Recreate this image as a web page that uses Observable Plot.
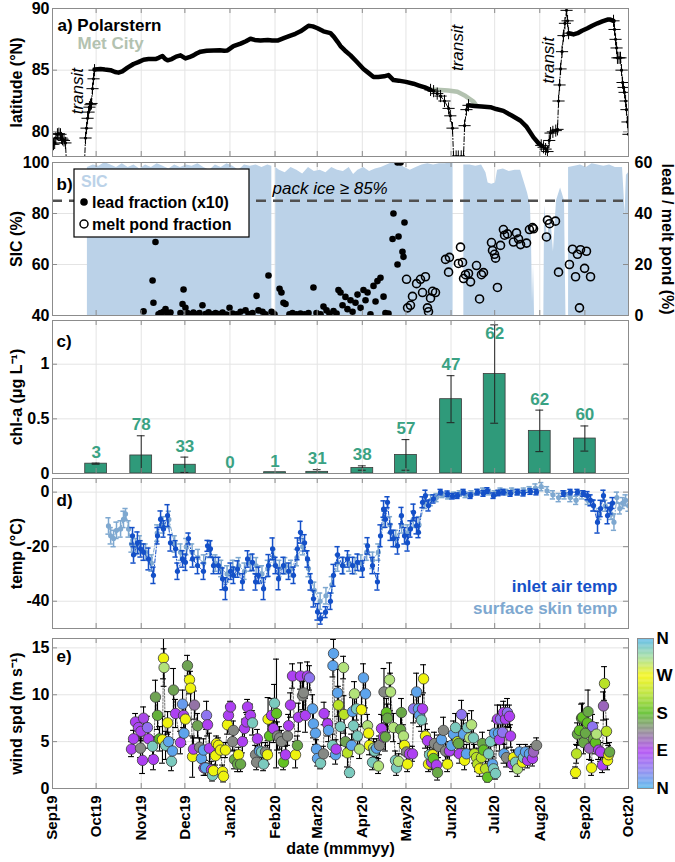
<!DOCTYPE html>
<html><head><meta charset="utf-8">
<script src="https://cdn.jsdelivr.net/npm/d3@7"></script>
<script src="https://cdn.jsdelivr.net/npm/@observablehq/plot@0.6"></script>
<style>
body{margin:0;background:#fff;}
#chart{position:relative;width:675px;height:862px;overflow:hidden;}
#chart svg{position:absolute;left:0;overflow:visible;}
</style></head><body><div id="chart"></div>
<script>
// ---------- DATA (days since 1 Sep 2019) ----------
const monthLabels = ["Sep19","Oct19","Nov19","Dec19","Jan20","Feb20","Mar20","Apr20","May20","Jun20","Jul20","Aug20","Sep20","Oct20"];
const latTicks = [80, 85, 90];
const sicTicks = [40, 60, 80, 100];
const chlTicks = [0, 0.5, 1];
const tempTicks = [-40, -20, 0];
const windTicks = [0, 5, 10, 15];
const dirTicks = [0, 90, 180, 270, 360];
const dirLabels = ["N", "E", "S", "W", "N"];

// Polarstern latitude [day, lat, leg]
const psRows = [
[0,79.0,"t0"],[0.7,79.0,"t0"],[1.5,79.1,"t0"],[2.3,79.5,"t0"],[3.4,79.8,"t0"],[4.4,79.85,"t0"],[5.5,79.8,"t0"],[6.2,79.5,"t0"],[6.9,79.4,"t0"],[7.9,79.3,"t0"],[8.9,79.1,"t0"],[9.6,77.5,"t0"],
[22,77.5,"t1"],[22.7,79.5,"t1"],[23.4,80.3,"t1"],[24.1,81.1,"t1"],[24.8,81.6,"t1"],[25.4,82.0,"t1"],[26.1,82.2,"t1"],[26.8,82.3,"t1"],[27.5,83.5,"t1"],[28.2,84.3,"t1"],[28.9,85.0,"t1"],
[28.9,85.05,"d1"],[33,85.1,"d1"],[36,85.05,"d1"],[39.9,85.0,"d1"],[43,84.85,"d1"],[45.4,84.8,"d1"],[48,84.9,"d1"],[51.6,85.2,"d1"],[55.7,85.5,"d1"],[59,85.65,"d1"],[62.6,85.85,"d1"],[66,85.9,"d1"],[70.8,85.9,"d1"],[73,86.0,"d1"],[75.6,86.15,"d1"],[77.5,85.9,"d1"],[79.1,85.8,"d1"],[82,85.9,"d1"],[85,86.1,"d1"],[88,86.2,"d1"],[91.4,85.95,"d1"],[94,86.05,"d1"],[96.9,86.2,"d1"],[99,86.35,"d1"],[101.8,86.5,"d1"],[106,86.58,"d1"],[110.7,86.6,"d1"],[115,86.62,"d1"],[118,86.58,"d1"],[120.3,86.6,"d1"],[124.4,86.95,"d1"],[129.3,87.15,"d1"],[133,87.35,"d1"],[136.1,87.55,"d1"],[139,87.45,"d1"],[143,87.4,"d1"],[148,87.45,"d1"],[151,87.4,"d1"],[154.7,87.4,"d1"],[159,87.6,"d1"],[163.6,87.8,"d1"],[167,87.95,"d1"],[170.5,88.15,"d1"],[173,88.35,"d1"],[176,88.6,"d1"],[179,88.55,"d1"],[182.2,88.4,"d1"],[186.3,88.15,"d1"],[191.1,88.0,"d1"],[193.5,87.7,"d1"],[196,87.3,"d1"],[198,86.95,"d1"],[201,86.6,"d1"],[204.9,86.2,"d1"],[209,85.7,"d1"],[213.8,85.1,"d1"],[217,84.8,"d1"],[220.7,84.45,"d1"],[224,84.45,"d1"],[228,84.5,"d1"],[231,84.6,"d1"],[234.4,84.2,"d1"],[238,84.15,"d1"],[243,84.05,"d1"],[248.2,83.9,"d1"],[252,83.75,"d1"],[256,83.6,"d1"],[259.9,83.4,"d1"],
[259.9,83.4,"t2"],[262,83.3,"t2"],[264.5,83.1,"t2"],[266.8,82.9,"t2"],[269.5,82.5,"t2"],[272.3,81.9,"t2"],[273.5,81.3,"t2"],[275,80.3,"t2"],[275.7,78.0,"t2"],[277.5,78.0,"t2"],[279,78.0,"t2"],[281,78.0,"t2"],[282.6,78.0,"t2"],[283.3,80.5,"t2"],[284.6,81.8,"t2"],[286,82.15,"t2"],
[286,82.15,"d2"],[290,82.1,"d2"],[295,82.05,"d2"],[301.1,82.0,"d2"],[305,81.85,"d2"],[310,81.7,"d2"],[316,81.3,"d2"],[321.8,80.9,"d2"],[326,80.4,"d2"],[330.7,79.55,"d2"],[334,79.1,"d2"],[336,78.9,"d2"],
[336,78.9,"t3"],[337.6,78.75,"t3"],[339,78.6,"t3"],[340.3,78.4,"t3"],[341.5,79.3,"t3"],[342.4,79.9,"t3"],[344,80.0,"t3"],[346,80.1,"t3"],[347.2,80.2,"t3"],[347.9,82.5,"t3"],[348.6,83.8,"t3"],[349.3,85.1,"t3"],[350.3,86.5,"t3"],[351.3,87.8,"t3"],[352.3,88.8,"t3"],[353.4,89.85,"t3"],[354.1,89.0,"t3"],[354.8,88.0,"t3"],
[354.8,88.0,"d3"],[356.5,87.95,"d3"],[358.2,87.9,"d3"],[361,88.0,"d3"],[364,88.2,"d3"],[367.8,88.4,"d3"],[371,88.6,"d3"],[374.7,88.8,"d3"],[378,88.95,"d3"],[381.6,89.1,"d3"],[383.5,89.1,"d3"],[385.7,89.0,"d3"],
[385.7,89.0,"t4"],[386.4,88.3,"t4"],[387.1,87.5,"t4"],[387.8,86.8,"t4"],[388.4,86.0,"t4"],[389.5,86.0,"t4"],[390.5,86.0,"t4"],[391.2,85.0,"t4"],[391.9,84.0,"t4"],[392.6,83.6,"t4"],[393.3,83.2,"t4"],[394,82.5,"t4"],[394.6,81.8,"t4"],[395.3,80.8,"t4"],[396,79.8,"t4"]
];
// Met City latitude [day, lat]
const metRows = [[259.9,83.4],[263,83.42],[266.8,83.4],[272,83.35],[278.4,83.25],[284,82.9],[289.4,82.45],[291,82.2]];
// transit annotations [day, lat]
const transitNotes = [[17.2,83.3],[278.8,86.8],[341,85.8]];

// Sea ice concentration [day, %]
const sicRows = [
[24,98],[28,99],[32,98.5],[36,100],[40,99],[44,98],[48,99.5],[52,98],[56,99],[60,97.5],[64,99],[68,98],[72,99.5],[76,98.5],[80,97.5],[84,99],[88,98],[92,99],[96,98.5],[100,99.5],[104,98],[108,97],[112,99],[116,98],[120,99.5],[124,98.5],[128,97],[132,99],[136,98.5],[140,99],[144,98],[148,99],[150.8,98.5],[151,NaN],[153.3,NaN],[153.5,98],[156,97],[160,96],[164,98],[168,97],[172,95.5],[176,98],[180,96.5],[184,97],[188,96],[192,98],[196,97],[200,96.5],[204,98],[207,95.3],[210,97],[214,98],[218,96.5],[222,97.5],[226,98],[230,99],[234,100],[238,99.5],[242,98],[246,97],[250,98],[254,99],[258,99.5],[262,99],[266,99.5],[270,99.5],[275.4,100],[275.6,NaN],[282.6,NaN],[282.8,99],[287,99],[291,98.5],[295,99],[298,96],[299.5,92],[302,91.5],[304.5,92],[306,97],[310,97.5],[314,96.5],[318,97],[321.8,97],[324.5,92],[326.6,88],[328.6,83],[329.3,70],[330,45],[330.7,60],[331.4,40],[331.6,NaN],[337.6,NaN],[337.8,40],[338.3,83],[340.3,70],[342.4,80],[344.4,65],[346.5,85],[349.3,90],[352,85],[353,40],[353.2,NaN],[354.6,NaN],[354.8,98],[359,98.5],[363,99],[367,98],[371,99.5],[375,99],[379,98.5],[383,99],[387,98],[391.9,98],[392.9,88],[393.6,80],[394.6,95],[396,96]
];
// lead fraction x10 [day, %]
const leadRows = [
[62.6,1.6],[68.8,13.7],[69.4,5],[70.8,28.8],[72.9,0.5],[74.3,1],[76.3,1.5],[77.7,2.5],[79.1,0.8],[81.1,1.2],[88,1],[89.4,4.5],[90.1,10.2],[91.4,3],[92.8,1],[94.9,0.5],[96.9,1.2],[99,0.4],[101,1],[103.1,4],[105.2,0.6],[107.3,1.3],[110,0.5],[112.1,1],[114.1,0.6],[116.9,1.2],[119.6,0.4],[121.7,3],[123.8,0.8],[126.5,0.5],[129.3,1.5],[132.7,2],[134.8,0.6],[137.5,1],[140.3,7.7],[141.6,2],[144.4,1.5],[146.4,0.5],[148.5,15.7],[150.6,1.5],[152.6,0.5],[156.1,10.5],[157.4,9],[158.8,5],[160.2,4.5],[162.9,0.5],[165,1],[167.8,0.5],[170.5,0.8],[173.3,0.5],[176,1],[179.4,11],[181.5,1],[184.3,0.5],[186.3,3.5],[188.4,2],[190.4,0.8],[193.2,1.7],[195.3,0.8],[196.6,10],[198,9],[199.4,4],[201.4,7.3],[202.8,2.5],[204.9,6],[206.3,1.5],[208.3,5],[209.7,8.2],[211.8,3],[213.8,10],[215.2,6],[216.6,9],[218.6,0.5],[220.7,11.6],[222.1,5.5],[223.4,13.5],[225.5,14.8],[227.6,7.4],[228.9,1],[231,0.8],[233.8,30],[234.4,40],[237.2,20],[237.2,60],[239.3,60],[237.9,31],[240.6,25],[241.3,23],[242,36.5]
];
// melt pond fraction [day, %]
const pondRows = [
[243.4,14.2],[244.1,3],[246.1,4],[247.5,7.5],[250.3,12.5],[253,14.2],[254.4,9],[256.4,15.2],[257.8,3],[258.5,1.5],[259.9,6.8],[261.3,9.5],[263.3,9],[270.2,22],[272.3,17],[272.9,22.8],[279.1,20.4],[280.5,26.8],[281.9,20.8],[282.6,14.5],[283.9,16],[286,16.5],[287.4,13.2],[291.5,19.6],[293.6,6.5],[294.9,16],[296.3,16.8],[301.8,28.6],[302.5,25.5],[303.9,24],[304.6,22.5],[305.9,11],[308,27.5],[310,33.7],[310.8,31.5],[312.8,32],[316.9,28.8],[319,32.4],[320.4,30],[321.8,27.8],[325.9,28.4],[327.9,33.7],[330,34.5],[330.7,34],[339.6,30.8],[340.3,37.4],[341.7,36],[345.8,37],[347.9,17],[355.4,20],[357.5,26],[359.6,15.2],[360.9,24],[362.3,3],[363,25.8],[365.8,18.5],[367.1,25.2],[369.9,15.2]
];

// chlorophyll-a monthly
const chlMonth = ["2019-10-01","2019-11-01","2019-12-01","2020-01-01","2020-02-01","2020-03-01","2020-04-01","2020-05-01","2020-06-01","2020-07-01","2020-08-01","2020-09-01"];
const chlMean = [0.09, 0.165, 0.08, 0, 0.012, 0.015, 0.05, 0.17, 0.68, 0.91, 0.39, 0.32];
const chlErr  = [0.005, 0.18, 0.07, 0, 0, 0.02, 0.02, 0.14, 0.215, 0.45, 0.19, 0.115];
const chlN    = [3, 78, 33, 0, 1, 31, 38, 57, 47, 62, 62, 60];

// inlet air temperature [day, T, err]
const airRows = [
[55,-16,3],[55.7,-23,3],[58.4,-18.6,4],[60.5,-20.8,3],[62.6,-22,3],[66,-24.5,4],[69.4,-30.5,3],[72.2,-16,3],[74.3,-9.9,3],[76.3,-13.5,3],[79.1,-8.6,4],[81.1,-18.6,3],[84.6,-20.8,3],[85.9,-29,3],[89.4,-24.5,3],[91.4,-25.7,3],[93.5,-17,2],[96.3,-24.5,3],[99.7,-26.9,3],[103.8,-29,3],[106.6,-19.7,2],[108.6,-20.8,3],[110.7,-26.9,3],[114.1,-26.9,3],[116.9,-31.8,4],[118.9,-35.4,4],[122.4,-29,3],[124.4,-30.5,3],[127.2,-28.2,3],[130.6,-32.9,3],[134.1,-24.5,3],[137.5,-25.7,3],[139.6,-32.9,3],[141.6,-30.5,3],[145.1,-35.4,4],[148.5,-26.9,4],[151.3,-20.8,4],[153.3,-26.9,3],[155.4,-31.8,4],[158.8,-26.9,3],[162.3,-29,3],[165.7,-30.5,3],[168.4,-20.8,4],[170.5,-14.7,4],[173.3,-18.6,3],[175.3,-24.5,3],[177.4,-32.9,3],[179.4,-39.1,3],[182.2,-43.9,3],[184.3,-46.4,2],[187.7,-44,2],[191.1,-40,3],[193.2,-30.5,4],[196,-23,3],[199.4,-26.9,3],[202.8,-24.5,3],[206.3,-26.9,3],[209.7,-25.7,3],[213.1,-28.2,3],[216.6,-19.7,3],[220,-26.9,3],[223.4,-32.9,3],[225.5,-16,4],[227.6,-6.2,3],[228.9,-9.9,3],[230.3,-3.7,2],[232.4,-14.7,3],[234.4,-17,3],[237.2,-19.7,3],[239.9,-8.6,3],[242,-16,3],[244.1,-18.6,3],[246.1,-13.5,3],[248.2,-7.4,3],[250.3,-12.3,3],[251.6,-14.7,2],[254.4,-3.7,2],[256.4,-1.3,2],[258.5,-4.9,2],[261.9,-2.5,1.5],[266.8,0,1],[271.6,-0.6,1],[275,-1.5,1],[278.4,-1.3,1],[282.6,0,1],[287.4,-1.3,1],[292.2,0,1],[296.3,-0.5,1],[299,0.6,1],[303.2,-1.3,1],[306.6,-0.3,1],[310,0,1],[314.9,-0.5,1],[319.7,0,1],[323.8,-0.4,1],[328.6,0.2,1],[332.7,0,1],[351.3,-0.5,1],[356.1,0,1],[360.9,0,1],[365,-0.5,1],[367.8,-1.3,1.5],[369.9,-3,2],[371.9,-4.9,2],[374.7,-11,4],[376.8,-6,3],[378.8,-1.3,2],[381.6,-8.6,3],[383.6,-6,2],[385,-4,2]
];
// surface skin temperature [day, T, err]
const skinRows = [
[38.5,-12.4,3],[40,-16,3],[42,-17,3],[44,-14,3],[46.8,-13.5,3],[48.8,-10,3],[50.2,-8,2],[52.3,-13.5,3],[54.3,-19,3],[57,-20,3],[60,-19,3],[64,-22,3],[68,-26,3],[72,-15,3],[76,-12,3],[80,-10,3],[84,-19,3],[88,-22,3],[92,-20,3],[96,-22,3],[100,-24,3],[104,-26,3],[108,-21,3],[112,-26,3],[116,-28,3],[120,-30,3],[124,-28,3],[128,-27,3],[132,-29,3],[136,-26,3],[140,-27,3],[144,-30,3],[148,-28,3],[152,-24,3],[156,-28,3],[160,-27,3],[164,-28,3],[168,-24,3],[172,-20,3],[176,-28,3],[180,-36,3],[184,-40,3],[188,-38,3],[192,-34,3],[196,-26,3],[200,-27,3],[204,-26,3],[208,-27,3],[212,-26,3],[216,-22,3],[220,-25,3],[224,-22,3],[228,-10,3],[232,-12,3],[236,-17,3],[240,-12,3],[244,-15,3],[248,-10,3],[252,-12,3],[256,-4,2],[260,-3,2],[264,-2,1.5],[268,-1,1],[272,-1.5,1],[276,-1,1],[280,-0.5,1],[284,-1,1],[288,-0.5,1],[292,0,1],[296,0.5,1],[300,0,1],[304,-0.5,1],[308,0.5,1],[312,0,1],[316,0.5,1],[320,0,1],[324,0.5,1],[328,1,1],[332,1.5,1.5],[336,2,1.5],[340,0.5,1.5],[344,-1,1.5],[348,-2,1.5],[352,-1,1.5],[356,-2,1.5],[360,-3,1.5],[364,-1,1.5],[368,-3,1.5],[372,-5,2],[376,-8,2],[380,-5,2],[384,-8,2],[386,-11,3],[388,-2,2],[390,-6,2],[392,-4,2],[394,-3,2],[396,-5,2]
];

// wind [day, speed, direction (deg), err]
const windRows = [
[54.3,4.2,90,0.8],[55.7,5.3,90,0.9],[57.1,7.1,90,0.9],[59.1,6.5,85,1],[60.5,4.3,140,1],[60.8,6.1,90,1],[61.9,3.0,90,1.4],[62.6,7.5,95,1.2],[65.3,6.5,55,1.2],[66,5.3,90,1],[68.8,4.5,335,1],[69.4,3.1,90,1.1],[70.8,9.75,160,1.8],[72.2,7.8,170,1.5],[73.6,5.3,180,1.3],[75.6,5.2,265,2.5],[76.3,13.9,265,2.2],[76.7,12.9,305,2],[77.7,4.6,335,1.5],[79.1,7.0,265,1.2],[79.8,5.0,12,1],[81.8,2.9,335,1],[82.5,4.0,12,1.2],[83.2,10.5,160,2.3],[84.6,8.0,90,1.5],[88,4.9,90,1.2],[89.4,9.0,20,1.5],[90.1,7.8,95,1.3],[90.4,5.9,12,1.2],[91.4,7.4,265,1.5],[92.8,13.1,160,1.1],[94.2,11.6,265,1.5],[94.9,10.7,265,1.8],[96.3,3.4,265,2.2],[96.9,4.2,90,1.2],[97.6,8.9,125,1.5],[99.7,6.7,160,1.3],[101.1,4.4,140,1],[102.4,3.2,12,1],[103.8,4.1,12,1.2],[104.2,2.2,90,0.8],[105.2,2.2,12,0.8],[105.9,7.8,50,1.5],[106.6,6.8,90,1.2],[107.9,4.3,90,1.6],[109.3,2.0,90,0.9],[110,1.4,335,0.6],[110.7,1.9,265,0.6],[112.1,3.5,265,1],[112.8,4.8,265,0.8],[114.1,4.6,265,0.8],[115.5,4.1,265,0.8],[116.9,1.8,265,0.7],[117.6,1.3,265,0.6],[118.9,4.1,265,0.8],[120.3,6.8,265,1],[121,7.8,90,1],[122.4,8.7,90,0.6],[123.8,5.0,140,1],[124.4,6.2,140,1],[125.1,3.1,165,1],[127.2,2.6,165,0.8],[127.9,3.6,265,0.8],[129.3,2.6,165,0.8],[130.6,5.0,90,1.2],[132,6.4,90,1],[133.4,7.1,90,1],[134.1,8.7,90,0.8],[136.1,7.8,90,1.2],[137.5,7.0,335,1.3],[139.6,3.6,140,1],[140.3,2.8,140,0.8],[140.9,5.3,90,1],[142.3,4.0,12,1.1],[143.7,3.9,335,1],[145.1,2.6,335,0.7],[146.4,3.9,140,1],[147.8,3.6,265,1],[148.2,7.4,265,2.3],[149.2,5.6,185,1.5],[150.6,7.8,90,1.8],[151.9,6.4,90,1.5],[152.6,9.1,335,2],[154,8.0,185,5.8],[154.7,5.6,140,1.5],[156.1,5.4,140,1.2],[157.4,5.0,140,1.2],[158.8,2.8,185,0.8],[160.2,3.6,90,0.9],[161.6,5.6,140,1],[162.3,6.7,90,1.2],[163.6,8.9,90,1.3],[165,12.0,90,1.3],[167.1,3.6,265,1.4],[168.4,4.6,165,1],[169.1,7.6,90,1.5],[170.5,12.0,90,1.4],[171.9,9.9,140,1.5],[172.6,10.2,140,2],[173.9,7.8,90,1.8],[175.3,12.0,90,1.5],[176.7,11.8,50,1.3],[178.8,8.5,12,1.5],[179.4,6.9,12,1.5],[180.8,5.9,12,1.2],[181.5,4.2,12,1],[182.2,3.2,12,0.8],[184.3,2.7,335,0.6],[186.3,3.7,140,0.8],[186.7,8.0,90,1.2],[189.1,6.9,90,1.3],[189.8,6.2,12,1.2],[192.5,4.6,335,1.2],[192.8,13.1,12,1.2],[193.2,14.4,12,1.5],[194.6,3.6,12,1],[195,4.2,90,1],[196,10.2,12,2.5],[196.6,8.9,230,2],[198,6.6,335,2],[200.1,12.9,305,1.2],[200.4,7.9,230,2],[201.4,5.0,160,1.5],[202.8,3.8,230,1.5],[204.2,1.7,335,0.5],[205.6,4.6,12,1.2],[206.3,8.2,12,1.5],[206.9,6.7,335,1.5],[207.6,10.1,305,1.3],[209,8.5,335,1.2],[209.7,5.6,335,1.2],[211.1,4.2,305,1],[212.4,8.4,265,1.8],[213.8,11.8,12,1.5],[215.2,10.1,12,1.5],[216.6,6.7,305,1.2],[217.3,5.9,265,1.2],[217.9,4.6,265,1],[220,2.8,335,0.8],[220.7,4.3,305,1],[221.4,4.0,335,1],[222.8,4.3,12,1],[224.1,2.4,305,0.8],[224.8,4.6,140,1],[226.2,6.4,90,1.5],[227.6,5.5,90,1.3],[227.9,10.3,140,2.5],[228.9,5.5,165,1.5],[229.6,8.1,185,1.5],[230.3,7.5,165,1.5],[231.7,11.6,305,1.8],[232.4,10.3,305,2],[234.4,6.5,305,1.5],[235.8,3.0,335,1],[236.5,2.2,335,0.8],[237.9,2.9,305,0.8],[239.3,6.3,165,1.5],[239.9,8.1,165,1.5],[241.3,5.6,305,1.2],[242,4.6,265,1],[243.4,3.9,140,1],[244.1,2.6,265,0.8],[245.4,3.7,90,0.8],[247.5,3.7,90,0.8],[248.2,8.5,50,1.5],[250.3,10.3,12,2],[251.6,8.5,12,1.3],[252.3,7.8,12,1.2],[253.7,7.3,335,1.2],[254.4,8.5,90,1.5],[255.1,11.7,265,1.5],[256.4,5.6,265,1.3],[257.8,5.1,90,1.2],[258.5,2.6,265,0.8],[259.2,3.6,335,0.8],[260.6,2.8,90,0.8],[261.3,3.6,265,1],[261.9,3.2,185,1],[262.6,4.8,140,1.2],[264,2.5,90,0.8],[264.7,1.7,165,0.8],[265.4,4.5,140,1.2],[267.4,5.2,12,1.2],[268.8,6.2,140,1.4],[270.2,4.0,140,1],[271.6,2.6,265,0.8],[272.9,4.0,90,1],[274.3,4.6,12,1],[275.7,5.8,12,1.4],[277.1,6.5,335,1.5],[278.4,5.0,230,1.5],[279.1,4.8,165,1.3],[279.8,3.7,90,1],[281.2,7.9,50,1.5],[282.6,5.8,12,1.5],[283.3,3.0,265,1],[284.6,3.7,12,1],[285.3,6.5,335,1.5],[286.7,5.4,305,1.3],[288.1,6.8,305,1.5],[289.4,5.4,335,1.2],[290.1,3.7,230,1],[291.5,3.3,230,1],[292.2,2.6,230,0.8],[293.6,2.1,265,0.8],[294.9,3.3,230,1],[295.6,4.8,165,1.2],[296.3,4.1,185,1],[297.7,2.1,230,0.8],[299.1,1.2,185,0.5],[299.8,3.7,335,1],[301.1,5.0,335,1.2],[302.5,2.6,12,0.8],[303.2,2.1,335,0.8],[303.9,5.9,12,1.3],[304.6,1.6,335,0.6],[305.9,7.4,90,1.5],[306.6,5.9,12,1.2],[307.3,5.2,90,1.2],[308,7.4,50,1.5],[309.4,6.0,50,1.2],[310.1,8.1,90,1.2],[310.4,3.7,12,1],[311.4,7.4,90,1.5],[312.1,3.3,140,1],[312.8,8.1,50,1.5],[314.2,7.7,90,1.2],[314.9,5.6,90,1.2],[316.2,2.6,90,0.8],[316.9,3.3,265,0.8],[318.3,2.8,335,0.8],[319.7,2.1,305,0.8],[321.1,3.9,12,0.8],[323.1,2.8,265,0.8],[323.8,3.3,335,0.8],[325.2,3.9,12,0.8],[326.6,3.0,90,0.8],[327.9,3.7,12,0.8],[330,3.2,90,0.8],[330.7,3.9,115,0.8],[332.8,4.6,140,0.8],
[359.6,1.7,265,0.6],[360.3,3.7,230,1],[360.9,5.8,165,1.2],[362.3,6.2,185,1.3],[363.7,7.5,165,1.5],[364.4,7.6,185,1.5],[365.1,4.9,165,1.2],[366.4,5.9,165,1.2],[367.8,7.0,185,1.5],[368.2,8.2,165,2.3],[369.2,4.3,115,1.2],[370.6,2.2,265,0.8],[371.3,6.6,50,1.3],[371.9,5.3,165,1.2],[373.3,4.9,185,1.2],[374,5.8,305,1.2],[375.4,4.1,90,1],[376.8,3.9,90,1],[378.1,2.5,90,0.8],[378.8,8.8,115,1.5],[379.5,11.2,230,1.8],[380.9,6.1,230,1.3],[381.6,3.0,265,1],[382.3,3.6,265,1],[383,3.9,165,1]
];

// ---------- HELPERS ----------
const DAY = 864e5, T0 = Date.UTC(2019, 8, 1);
const toDate = d => new Date(T0 + d * DAY);
const xDomain = [new Date(T0), new Date(Date.UTC(2020, 9, 1))];
const months = d3.utcMonth.range(xDomain[0], new Date(Date.UTC(2020, 9, 2)));
const monthFmt = d => monthLabels[months.findIndex(m => +m === +d)];
const GRID = "#e4e4e4", EDGE = "#8c8c8c";
const FONT = "'Liberation Sans', Arial, Helvetica, sans-serif";
const SICC = "#bbd2e8", TEAL = "#2f9a7a", TEALT = "#3aa283";
const AIR = "#1450c8", SKIN = "#7ea8d0", METC = "#b3c2b0";
const dirColor = d3.scaleLinear([0,45,90,135,180,225,270,315,360],
  ["#4db3ea","#8a7cf0","#ad40f2","#8c8290","#58bd22","#b2e02a","#f5f50a","#9fdc9a","#4db3ea"]);
const breakGaps = (rows, gap) => rows.flatMap((d, i) =>
  (i > 0 && d[0] - rows[i-1][0] > gap) ? [[(d[0] + rows[i-1][0]) / 2, NaN], d] : [d]);
const chart = document.getElementById("chart");
const PW = 576;

function edges(yTicks, h) {
  return [
    Plot.tickX(months, {x: d => d, insetTop: h - 5, stroke: EDGE}),
    Plot.tickX(months, {x: d => d, insetBottom: h - 5, stroke: EDGE}),
    Plot.tickY(yTicks, {y: d => d, insetRight: PW - 5, stroke: EDGE}),
    Plot.tickY(yTicks, {y: d => d, insetLeft: PW - 5, stroke: EDGE}),
    Plot.frame({stroke: EDGE})
  ];
}
function grids(yTicks) {
  return [
    Plot.gridX(months, {stroke: GRID, strokeOpacity: 1}),
    Plot.gridY(yTicks, {stroke: GRID, strokeOpacity: 1})
  ];
}
function yAxis(ticks, title) {
  return [
    Plot.axisY(ticks, {anchor: "left", tickSize: 0, tickPadding: 3, tickFormat: d => String(d), label: null, fontSize: 16}),
    Plot.text([title], {frameAnchor: "left", dx: -36, rotate: -90, textAnchor: "middle", fontSize: 16})
  ];
}
function panel(top, bottom, yOpts, marksFn, mb = 8, xAxis = false) {
  const mt = 8, h = bottom - top;
  const svg = Plot.plot({
    width: 675, height: h + mt + mb,
    marginLeft: 52, marginRight: 47, marginTop: mt, marginBottom: mb,
    style: {fontFamily: FONT, fontSize: "16px", fontWeight: "bold", background: "none", overflow: "visible", color: "#000"},
    x: xAxis ? {type: "utc", domain: xDomain} : {type: "utc", domain: xDomain, axis: null},
    y: yOpts,
    color: {type: "identity"},
    marks: marksFn(h)
  });
  svg.style.top = (top - mt) + "px";
  chart.append(svg);
  return svg;
}
const lbl = (t, dy) => Plot.text([t], {frameAnchor: "top-left", dx: 4, dy, textAnchor: "start", fontSize: 17});

// ---------- PANEL a ----------
const isDrift = d => d[2][0] === "d";
const psTransit = psRows.filter(d => !isDrift(d));
panel(8, 156, {domain: [78, 90]}, h => [
  ...grids(latTicks),
  Plot.line(metRows, {x: d => toDate(d[0]), y: d => d[1], stroke: METC, strokeWidth: 4.5, strokeLinecap: "round", clip: true}),
  Plot.line(psRows, {x: d => toDate(d[0]), y: d => d[1], z: d => d[2], stroke: "black", strokeWidth: 1, strokeDasharray: "5,2,1,2", clip: true}),
  Plot.line(psRows.filter(isDrift), {x: d => toDate(d[0]), y: d => d[1], z: d => d[2], stroke: "black", strokeWidth: 4.5, strokeLinecap: "round", strokeLinejoin: "round", clip: true}),
  Plot.dot(psTransit, {x: d => toDate(d[0]), y: d => d[1], symbol: "plus", r: 4, stroke: "black", strokeWidth: 1, clip: true}),
  Plot.dot(psTransit, {x: d => toDate(d[0]), y: d => d[1], r: 1.6, fill: "black", clip: true}),
  Plot.text(transitNotes, {x: d => toDate(d[0]), y: d => d[1], text: () => "transit", rotate: -90, fontStyle: "italic", fontWeight: "normal", fontSize: 17}),
  Plot.text(["a) Polarstern"], {frameAnchor: "top-left", dx: 5, dy: 10, textAnchor: "start", fontSize: 17}),
  Plot.text(["Met City"], {frameAnchor: "top-left", dx: 25, dy: 28.5, textAnchor: "start", fontSize: 17, fill: METC}),
  ...edges(latTicks, h),
  ...yAxis(latTicks, "latitude (°N)")
]);

// ---------- PANEL b ----------
const svgB = panel(162, 315, {domain: [40, 100]}, h => [
  ...grids(sicTicks),
  Plot.areaY(sicRows, {x: d => toDate(d[0]), y1: 40, y2: d => d[1], fill: SICC, clip: true}),
  Plot.ruleY([85], {stroke: "#505050", strokeWidth: 2.5, strokeDasharray: "10,7"}),
  Plot.text(["pack ice ≥ 85%"], {x: toDate(151.3), y: 89.8, textAnchor: "start", fontStyle: "italic", fontWeight: "normal", fontSize: 17}),
  Plot.dot(leadRows, {x: d => toDate(d[0]), y: d => d[1] + 40, r: 3.3, fill: "black", clip: true}),
  Plot.dot(pondRows, {x: d => toDate(d[0]), y: d => d[1] + 40, r: 4, stroke: "black", strokeWidth: 1.6, fill: "none", clip: true}),
  lbl("b)", 15),
  ...edges(sicTicks, h),
  ...yAxis(sicTicks, "SIC (%)"),
  Plot.axisY(sicTicks, {anchor: "right", tickSize: 0, tickPadding: 6, tickFormat: d => String(d - 40), label: null, fontSize: 16}),
  Plot.text(["lead / melt pond (%)"], {frameAnchor: "right", dx: 39, rotate: 90, textAnchor: "middle", fontSize: 16})
]);
// legend box for panel b
{
  const g = d3.select(svgB).append("g").attr("font-family", FONT).attr("font-weight", "bold").attr("font-size", 16);
  const oy = 154;
  g.append("rect").attr("x", 74).attr("y", 169 - oy).attr("width", 175).attr("height", 68)
    .attr("fill", "white").attr("stroke", "black").attr("stroke-width", 1.2);
  g.append("text").attr("x", 81).attr("y", 181 - oy).attr("dy", "0.35em").attr("fill", SICC).attr("text-anchor", "start").text("SIC");
  g.append("circle").attr("cx", 84).attr("cy", 202 - oy).attr("r", 3.8).attr("fill", "black");
  g.append("text").attr("x", 92).attr("y", 202 - oy).attr("dy", "0.35em").attr("fill", "black").attr("text-anchor", "start").text("lead fraction (x10)");
  g.append("circle").attr("cx", 84).attr("cy", 224 - oy).attr("r", 4).attr("fill", "white").attr("stroke", "black").attr("stroke-width", 1.5);
  g.append("text").attr("x", 92).attr("y", 224 - oy).attr("dy", "0.35em").attr("fill", "black").attr("text-anchor", "start").text("melt pond fraction");
}

// ---------- PANEL c ----------
const chl = chlMonth.map((m, i) => ({date: new Date(m + "T00:00:00Z"), mean: chlMean[i], err: chlErr[i], n: chlN[i]}));
const chlE = chl.filter(d => d.err > 0);
const off = (d, days) => new Date(+d + days * DAY);
panel(320, 473, {domain: [0, 1.4]}, h => [
  ...grids(chlTicks),
  Plot.rectY(chl, {x1: d => off(d.date, -7.5), x2: d => off(d.date, 7.5), y1: 0, y2: d => d.mean, fill: TEAL, stroke: "#3a3a3a", strokeWidth: 0.8}),
  Plot.ruleX(chlE, {x: d => d.date, y1: d => d.mean - d.err, y2: d => d.mean + d.err, stroke: "#222", strokeWidth: 1, clip: true}),
  Plot.ruleY(chlE, {x1: d => off(d.date, -2.7), x2: d => off(d.date, 2.7), y: d => d.mean + d.err, stroke: "#222", strokeWidth: 1, clip: true}),
  Plot.ruleY(chlE, {x1: d => off(d.date, -2.7), x2: d => off(d.date, 2.7), y: d => d.mean - d.err, stroke: "#222", strokeWidth: 1, clip: true}),
  Plot.text(chl, {x: d => d.date, y: d => Math.min(d.mean + d.err, 1.18), dy: -11, text: d => String(d.n), fill: TEALT, fontSize: 17}),
  lbl("c)", 14),
  ...edges(chlTicks, h),
  ...yAxis(chlTicks, "chl-a (μg L⁻¹)")
]);

// ---------- PANEL d ----------
function tempMarks(rows, color) {
  const r = rows.filter(d => !isNaN(d[1]));
  return [
    Plot.line(breakGaps(rows, 10), {x: d => toDate(d[0]), y: d => d[1], stroke: color, strokeWidth: 1, strokeDasharray: "4,2,1,2", clip: true}),
    Plot.ruleX(r, {x: d => toDate(d[0]), y1: d => d[1] - d[2], y2: d => d[1] + d[2], stroke: color, strokeWidth: 1.5, clip: true}),
    Plot.ruleY(r, {x1: d => toDate(d[0] - 1.8), x2: d => toDate(d[0] + 1.8), y: d => d[1] + d[2], stroke: color, strokeWidth: 1.5, clip: true}),
    Plot.ruleY(r, {x1: d => toDate(d[0] - 1.8), x2: d => toDate(d[0] + 1.8), y: d => d[1] - d[2], stroke: color, strokeWidth: 1.5, clip: true}),
    Plot.dot(r, {x: d => toDate(d[0]), y: d => d[1], r: 2.6, fill: color, clip: true})
  ];
}
panel(478, 628, {domain: [-50, 5]}, h => [
  ...grids(tempTicks),
  ...tempMarks(skinRows, SKIN),
  ...tempMarks(airRows, AIR),
  Plot.text(["inlet air temp"], {frameAnchor: "bottom-right", dx: -11, dy: -37, textAnchor: "end", fill: AIR, fontSize: 17}),
  Plot.text(["surface skin temp"], {frameAnchor: "bottom-right", dx: -11, dy: -15, textAnchor: "end", fill: SKIN, fontSize: 17}),
  lbl("d)", 15),
  ...edges(tempTicks, h),
  ...yAxis(tempTicks, "temp (°C)")
]);

// ---------- PANEL e ----------
panel(638, 788, {domain: [0, 16]}, h => [
  ...grids(windTicks),
  Plot.line(breakGaps(windRows, 10), {x: d => toDate(d[0]), y: d => d[1], stroke: "#333", strokeWidth: 0.7, strokeDasharray: "2,1.5"}),
  Plot.ruleX(windRows, {x: d => toDate(d[0]), y1: d => d[1] - d[3], y2: d => d[1] + d[3], stroke: "black", strokeWidth: 1.1, clip: true}),
  Plot.ruleY(windRows, {x1: d => toDate(d[0] - 2), x2: d => toDate(d[0] + 2), y: d => d[1] + d[3], stroke: "black", strokeWidth: 1.1, clip: true}),
  Plot.ruleY(windRows, {x1: d => toDate(d[0] - 2), x2: d => toDate(d[0] + 2), y: d => d[1] - d[3], stroke: "black", strokeWidth: 1.1, clip: true}),
  Plot.dot(windRows, {x: d => toDate(d[0]), y: d => d[1], r: 5.2, fill: d => dirColor(d[2]), stroke: "#3a3a3a", strokeWidth: 0.8}),
  lbl("e)", 11),
  ...edges(windTicks, h),
  ...yAxis(windTicks, "wind spd (m s⁻¹)"),
  Plot.axisX(months, {anchor: "bottom", tickSize: 0, tickPadding: 7, tickRotate: -90, tickFormat: monthFmt, fontSize: 15, label: null}),
  Plot.text(["date (mmmyy)"], {frameAnchor: "bottom", dy: 65, fontSize: 16})
], 74, true);

// ---------- colour bar ----------
{
  const cb = Plot.plot({
    width: 45, height: 175, marginLeft: 7, marginRight: 22, marginTop: 8, marginBottom: 17,
    style: {fontFamily: FONT, fontSize: "17px", fontWeight: "bold", background: "none", overflow: "visible", color: "#000"},
    x: {axis: null},
    y: {domain: [0, 360]},
    color: {type: "identity"},
    marks: [
      Plot.rect(d3.range(0, 360, 2), {y1: d => d, y2: d => d + 2, fill: d => dirColor(d + 1)}),
      Plot.frame({stroke: EDGE}),
      Plot.axisY(dirTicks, {anchor: "right", tickSize: 0, tickPadding: 3, tickFormat: d => dirLabels[dirTicks.indexOf(d)], label: null, fontSize: 17})
    ]
  });
  cb.style.top = "630px";
  cb.style.left = "630px";
  chart.append(cb);
}
</script></body></html>
